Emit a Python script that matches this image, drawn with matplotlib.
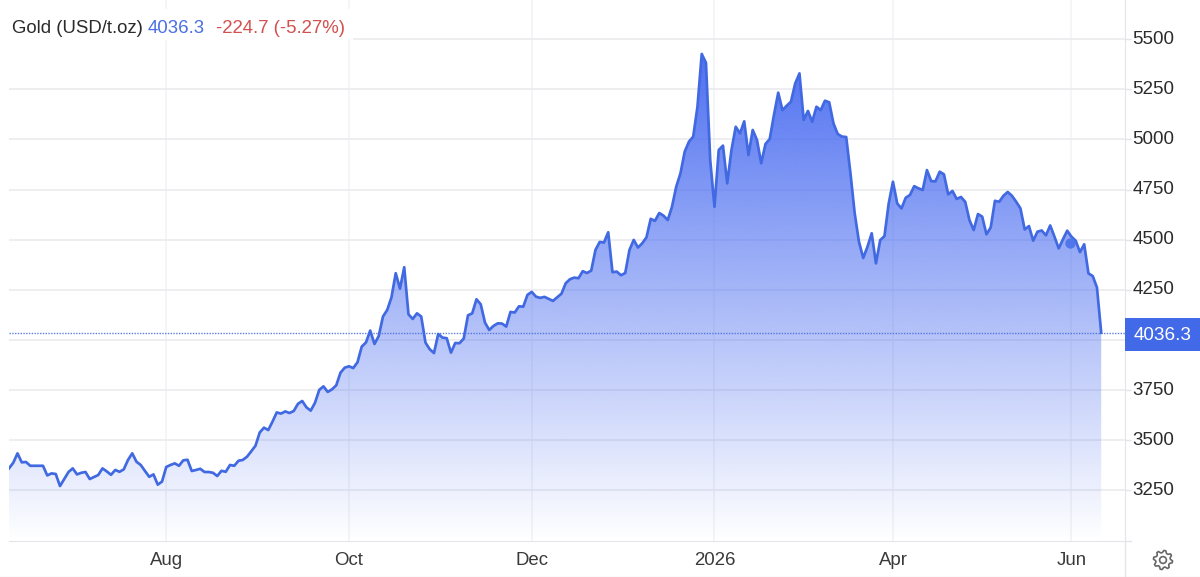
"""Gold price area chart: line over a fading blue gradient, price tag on the right."""
import numpy as np
import matplotlib

matplotlib.use("Agg")  # headless
import matplotlib.pyplot as plt
from matplotlib.colors import LinearSegmentedColormap
from matplotlib.patches import Circle, PathPatch, Rectangle
from matplotlib.path import Path
from matplotlib.transforms import ScaledTranslation

# one close per trading session
prices = [
    3360, 3388, 3435, 3390, 3392, 3373, 3373, 3373, 3373, 3325,
    3335, 3332, 3272, 3307, 3342, 3360, 3330, 3338, 3342, 3307,
    3317, 3327, 3360, 3345, 3328, 3352, 3343, 3355, 3402, 3435,
    3393, 3377, 3347, 3318, 3330, 3279, 3294, 3367, 3377, 3385,
    3373, 3400, 3403, 3347, 3352, 3358, 3342, 3342, 3338, 3322,
    3348, 3343, 3377, 3373, 3398, 3402, 3418, 3445, 3473, 3539,
    3563, 3551, 3593, 3639, 3633, 3644, 3636, 3646, 3682, 3696,
    3664, 3648, 3687, 3751, 3769, 3741, 3754, 3774, 3837, 3862,
    3869, 3860, 3889, 3967, 3988, 4047, 3980, 4020, 4117, 4150,
    4213, 4333, 4256, 4363, 4128, 4105, 4133, 4117, 3987, 3954,
    3935, 4030, 4012, 4009, 3937, 3985, 3984, 4007, 4123, 4133,
    4203, 4178, 4087, 4050, 4070, 4083, 4082, 4067, 4140, 4137,
    4168, 4166, 4225, 4240, 4216, 4210, 4215, 4205, 4195, 4213,
    4231, 4283, 4303, 4311, 4308, 4343, 4334, 4346, 4449, 4489,
    4486, 4537, 4338, 4341, 4323, 4334, 4449, 4499, 4461, 4482,
    4512, 4604, 4594, 4633, 4620, 4598, 4664, 4764, 4831, 4939,
    4989, 5014, 5163, 5426, 5382, 4897, 4664, 4947, 4969, 4781,
    4947, 5063, 5030, 5090, 4922, 5047, 4997, 4881, 4977, 5002,
    5122, 5233, 5146, 5168, 5188, 5279, 5329, 5097, 5142, 5088,
    5163, 5146, 5193, 5185, 5080, 5027, 5014, 5012, 4831, 4631,
    4490, 4409, 4465, 4532, 4382, 4498, 4518, 4681, 4789, 4681,
    4656, 4709, 4723, 4767, 4756, 4748, 4847, 4792, 4791, 4839,
    4826, 4726, 4743, 4703, 4713, 4689, 4598, 4548, 4628, 4615,
    4527, 4561, 4694, 4689, 4719, 4738, 4719, 4689, 4656, 4551,
    4568, 4495, 4540, 4546, 4522, 4571, 4515, 4457, 4502, 4545,
    4515, 4495, 4438, 4477, 4332, 4319, 4262, 4036.3,
]
y_ticks = [3250, 3500, 3750, 4000, 4250, 4500, 4750, 5000, 5250, 5500]
y_labels = ["3250", "3500", "3750", "", "4250", "4500", "4750", "5000", "5250", "5500"]
x_ticks = [37, 80, 123, 166, 208, 250]
x_labels = ["Aug", "Oct", "Dec", "2026", "Apr", "Jun"]
last_price = 4036.3
marker_session, marker_price = 249.7, 4485

W, H = 1200, 577
LINE = "#4169e1"
GRID = "#e4e5ea"
TEXT = "#2b2b2b"
plt.rcParams["font.family"] = ["Liberation Sans", "DejaVu Sans"]

fig = plt.figure(figsize=(W / 100, H / 100), dpi=100)
ax = fig.add_axes([9 / W, (H - 541) / H, 1116 / W, 541 / H])
y_min, y_max = 2998, 5695
x_max = 262.6
sessions = np.arange(len(prices))

# gradient fill, clipped to the area under the line
cmap = LinearSegmentedColormap.from_list(
    "fade", [(70 / 255, 105 / 255, 240 / 255, 0.0), (70 / 255, 105 / 255, 240 / 255, 0.95)]
)
ramp = np.linspace(1, 0, 256).reshape(-1, 1)
im = ax.imshow(ramp, cmap=cmap, vmin=0, vmax=1, aspect="auto", zorder=1,
               extent=[0, x_max, y_min, max(prices)], interpolation="bilinear")
area = np.vstack([[sessions[0], y_min], np.column_stack([sessions, prices]), [sessions[-1], y_min]])
clip = PathPatch(Path(area), transform=ax.transData)
im.set_clip_path(clip)

ax.plot(sessions, prices, color=LINE, lw=1.95, solid_joinstyle="round", zorder=3)
ax.axhline(last_price, color=LINE, lw=1, ls=(0, (1, 1)), alpha=0.85, zorder=4)
ax.scatter([marker_session], [marker_price], s=55, color="#4f76ea", linewidths=0, zorder=4)

ax.set_xlim(0, x_max)
ax.set_ylim(y_min, y_max)
ax.set_yticks(y_ticks, y_labels)
ax.set_xticks(x_ticks, x_labels)
ax.yaxis.tick_right()
ax.tick_params(axis="y", length=4, width=1, color=GRID, labelsize=13.5, labelcolor=TEXT, pad=1.5)
ax.tick_params(axis="x", length=0, labelsize=13.4, labelcolor="#3a3a3a", pad=8)
ax.grid(axis="y", color="#e9eaee", lw=1.1)
ax.grid(axis="x", color="#f0f3f5", lw=1.1)
ax.set_axisbelow(True)
for side in ["top", "left"]:
    ax.spines[side].set_visible(False)
ax.spines["right"].set_color(GRID)
ax.spines["bottom"].set_color(GRID)

# nudge the price labels up a touch
nudge = ScaledTranslation(0, 1.5 / 72, fig.dpi_scale_trans)
for label in ax.get_yticklabels():
    label.set_transform(label.get_transform() + nudge)

# overlay in pixel coordinates for the chart furniture
ui = fig.add_axes([0, 0, 1, 1], facecolor="none")
ui.set_xlim(0, W)
ui.set_ylim(H, 0)
ui.axis("off")
ui.add_patch(Rectangle((9, 9), 343, 30, color="white", zorder=1))
ui.text(12, 28.5, "Gold (USD/t.oz)", fontsize=13.4, color=TEXT, va="center", zorder=2)
ui.text(148, 28.5, "4036.3", fontsize=13.4, color="#4a6fe3", va="center", zorder=2)
ui.text(216, 28.5, "-224.7 (-5.27%)", fontsize=13.4, color="#d2504f", va="center", zorder=2)

# price tag
ui.add_patch(Rectangle((1125, 318), 75, 33, color="#4169e8", lw=0, zorder=1))
ui.text(1162.5, 335.5, "4036.3", fontsize=13.6, color="white", ha="center", va="center", zorder=2)

# footer lines
ui.plot([1125, 1125], [541, 577], color=GRID, lw=1)
ui.plot([1125, 1131], [541, 541], color=GRID, lw=1)
ui.plot([0, W], [576.5, 576.5], color="#eeeeee", lw=1)

# settings gear
gx, gy = 1163, 560
teeth = 8
angles = np.linspace(0, 2 * np.pi, teeth * 4, endpoint=False) + np.pi / teeth / 4
radii = np.tile([9.6, 9.6, 7.4, 7.4], teeth)
gear = np.column_stack([gx + radii * np.cos(angles), gy + radii * np.sin(angles)])
ui.add_patch(plt.Polygon(gear, closed=True, fill=False, edgecolor="#666666", lw=1.2, joinstyle="round"))
ui.add_patch(Circle((gx, gy), 3.4, fill=False, edgecolor="#666666", lw=1.2))

fig.savefig("out.png", dpi=100)
plt.close(fig)
